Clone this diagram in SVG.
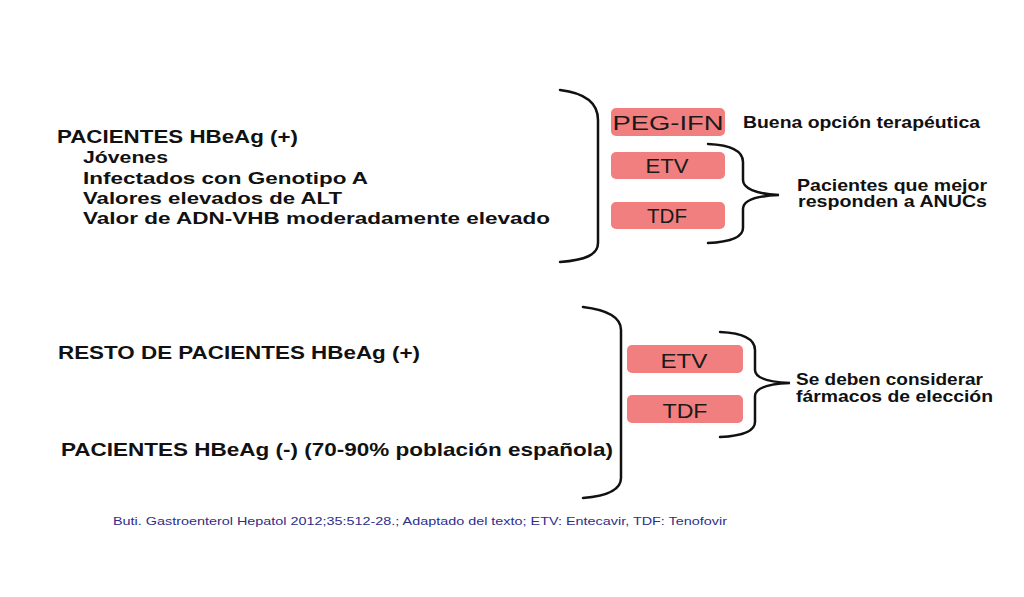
<svg xmlns="http://www.w3.org/2000/svg" width="1024" height="597" viewBox="0 0 1024 597">
<style>
.t{font-family:"Liberation Sans",Arial,sans-serif;fill:#111;}
.b{font-weight:bold;}
.box{fill:#F27F7F;}
.bt{font-family:"Liberation Sans",Arial,sans-serif;fill:#1a1a1a;font-size:19.5px;text-anchor:middle;}
.br{fill:none;stroke:#111;stroke-width:2.5;stroke-linecap:round;}
.foot{font-family:"Liberation Sans",Arial,sans-serif;fill:#2e2e8a;font-size:10.5px;}
</style>
<rect width="1024" height="597" fill="#fff"/>
<g id="left-top">
<text class="t b" x="57" y="143" font-size="18.5" textLength="241" lengthAdjust="spacingAndGlyphs">PACIENTES HBeAg (+)</text>
<text class="t b" x="83" y="163" font-size="16.5" textLength="85" lengthAdjust="spacingAndGlyphs">Jóvenes</text>
<text class="t b" x="83" y="184" font-size="16.5" textLength="285" lengthAdjust="spacingAndGlyphs">Infectados con Genotipo A</text>
<text class="t b" x="83" y="204" font-size="16.5" textLength="259" lengthAdjust="spacingAndGlyphs">Valores elevados de ALT</text>
<text class="t b" x="83" y="224" font-size="16.5" textLength="467" lengthAdjust="spacingAndGlyphs">Valor de ADN-VHB moderadamente elevado</text>
</g>
<g id="left-bottom">
<text class="t b" x="58" y="359" font-size="18.5" textLength="362" lengthAdjust="spacingAndGlyphs">RESTO DE PACIENTES HBeAg (+)</text>
<text class="t b" x="61" y="456" font-size="19" textLength="552" lengthAdjust="spacingAndGlyphs">PACIENTES HBeAg (-) (70-90% población española)</text>
</g>
<g id="connectors">
<path class="br" d="M560,90 C585,93 598,103 598,120 L598,243 C598,255 585,260 560,262"/>
<path class="br" d="M708,144 C730,145 743,150 743,162 L743,180 C743,188 755,194 779,195 C755,196 743,201 743,209 L743,228 C743,238 730,242 708,243"/>
<path class="br" d="M583,307 C608,310 621,318 621,330 L621,478 C621,490 608,496 583,498"/>
<path class="br" d="M720,332 C742,333 755,338 755,350 L755,370 C755,378 767,382 790,383 C767,384 755,388 755,396 L755,422 C755,432 742,436 720,437"/>
</g>
<g id="peg-ifn">
<rect class="box" x="611" y="108" width="114" height="28" rx="5"/>
<text class="bt" x="668" y="130" textLength="111" lengthAdjust="spacingAndGlyphs">PEG-IFN</text>
</g>
<g id="etv-top">
<rect class="box" x="611" y="152" width="114" height="27" rx="5"/>
<text class="bt" x="667" y="173" textLength="43" lengthAdjust="spacingAndGlyphs">ETV</text>
</g>
<g id="tdf-top">
<rect class="box" x="611" y="202" width="114" height="27" rx="5"/>
<text class="bt" x="667" y="223" textLength="40" lengthAdjust="spacingAndGlyphs">TDF</text>
</g>
<g id="etv-bottom">
<rect class="box" x="627" y="345" width="116" height="28" rx="5"/>
<text class="bt" x="684" y="368" textLength="47" lengthAdjust="spacingAndGlyphs">ETV</text>
</g>
<g id="tdf-bottom">
<rect class="box" x="627" y="395" width="116" height="28" rx="5"/>
<text class="bt" x="685" y="418" textLength="45" lengthAdjust="spacingAndGlyphs">TDF</text>
</g>
<g id="label-buena">
<text class="t b" x="743" y="128" font-size="16" textLength="237" lengthAdjust="spacingAndGlyphs">Buena opción terapéutica</text>
</g>
<g id="label-anucs">
<text class="t b" x="797" y="191" font-size="16.5" textLength="190" lengthAdjust="spacingAndGlyphs">Pacientes que mejor</text>
<text class="t b" x="798" y="207" font-size="16.5" textLength="189" lengthAdjust="spacingAndGlyphs">responden a ANUCs</text>
</g>
<g id="label-eleccion">
<text class="t b" x="796" y="385" font-size="16.5" textLength="187" lengthAdjust="spacingAndGlyphs">Se deben considerar</text>
<text class="t b" x="796" y="402" font-size="16.5" textLength="197" lengthAdjust="spacingAndGlyphs">fármacos de elección</text>
</g>
<g id="footer">
<text class="foot" x="113" y="525" textLength="614" lengthAdjust="spacingAndGlyphs">Buti. Gastroenterol Hepatol 2012;35:512-28.; Adaptado del texto; ETV: Entecavir, TDF: Tenofovir</text>
</g>
</svg>
